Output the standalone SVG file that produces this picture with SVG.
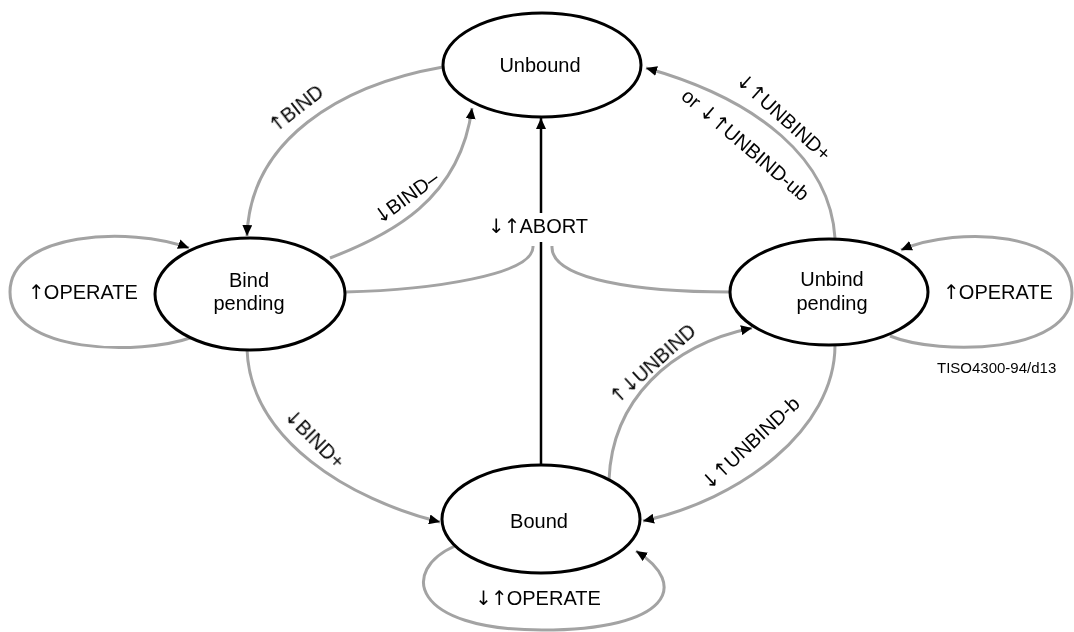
<svg xmlns="http://www.w3.org/2000/svg" width="1074" height="632" viewBox="0 0 1074 632">
<style>
.node{fill:#fff;stroke:#000;stroke-width:3}
.c{fill:none;stroke:#a3a3a3;stroke-width:3}
.t{font-family:"Liberation Sans",Arial,sans-serif;font-size:20px;fill:#000;text-anchor:middle}
.a{font-family:"DejaVu Sans",sans-serif;letter-spacing:-1px}
.small{font-family:"Liberation Sans",Arial,sans-serif;font-size:15px;fill:#000}
.gs{opacity:0.99}
</style>
<defs>
<marker id="ah" markerUnits="userSpaceOnUse" markerWidth="12" markerHeight="10" refX="11" refY="5" orient="auto">
<path d="M0,0 L11,5 L0,10 z" fill="#000"/>
</marker>
</defs>
<rect width="1074" height="632" fill="#fff"/>
<g id="connectors">
<path class="c" d="M443 67 C340 85 250 140 247 236" marker-end="url(#ah)"/>
<path class="c" d="M330 258 C390 235 460 200 472 108" marker-end="url(#ah)"/>
<path class="c" d="M835 238 C830 160 760 100 646 68" marker-end="url(#ah)"/>
<path class="c" d="M247 349 C250 440 350 500 440 522" marker-end="url(#ah)"/>
<path class="c" d="M609 480 C612 400 670 345 752 328" marker-end="url(#ah)"/>
<path class="c" d="M835 345 C835 430 740 500 643 521" marker-end="url(#ah)"/>
<path class="c" d="M345 292 C430 290 535 275 533 246"/>
<path class="c" d="M730 292 C640 292 550 280 552 246"/>
<line x1="541" y1="465" x2="541" y2="242" stroke="#000" stroke-width="2.5"/>
<line x1="541" y1="213" x2="541" y2="118" stroke="#000" stroke-width="2.5" marker-end="url(#ah)"/>
<path class="c" d="M193 337 C140 356 10 354 10 292 C10 232 130 226 189 248" marker-end="url(#ah)"/>
<path class="c" d="M890 336 C940 356 1072 354 1072 293 C1072 232 960 225 901 250" marker-end="url(#ah)"/>
<path class="c" d="M455 546 C400 570 410 630 542 630 C670 630 690 585 636 551" marker-end="url(#ah)"/>
</g>
<g id="labels" class="gs">
<text class="t" transform="translate(300,114) rotate(-38)"><tspan class="a">↑</tspan>BIND</text>
<text class="t" transform="translate(410,203) rotate(-36)"><tspan class="a">↓</tspan>BIND–</text>
<text class="t" transform="translate(779,122) rotate(42)"><tspan class="a">↓↑</tspan>UNBIND+</text>
<text class="t" transform="translate(741,150) rotate(40.5)">or <tspan class="a">↓↑</tspan>UNBIND-ub</text>
<text class="t" x="538" y="233"><tspan class="a">↓↑</tspan>ABORT</text>
<text class="t" transform="translate(309.5,443.5) rotate(45)"><tspan class="a">↓</tspan>BIND+</text>
<text class="t" transform="translate(657,369) rotate(-42)"><tspan class="a">↑↓</tspan>UNBIND</text>
<text class="t" transform="translate(755,448) rotate(-43)"><tspan class="a">↓↑</tspan>UNBIND-b</text>
<text class="t" x="83" y="299"><tspan class="a">↑</tspan>OPERATE</text>
<text class="t" x="998" y="299"><tspan class="a">↑</tspan>OPERATE</text>
<text class="t" x="538" y="605"><tspan class="a">↓↑</tspan>OPERATE</text>
<text class="small" x="937" y="373">TISO4300-94/d13</text>
</g>
<g id="unbound">
<ellipse class="node" cx="542" cy="65" rx="99" ry="52"/>
<text class="t" x="540" y="72">Unbound</text>
</g>
<g id="bind-pending">
<ellipse class="node" cx="250" cy="294" rx="95" ry="56"/>
<text class="t" x="249" y="287">Bind</text>
<text class="t" x="249" y="310">pending</text>
</g>
<g id="unbind-pending">
<ellipse class="node" cx="829" cy="292" rx="99" ry="53"/>
<text class="t" x="832" y="286">Unbind</text>
<text class="t" x="832" y="310">pending</text>
</g>
<g id="bound">
<ellipse class="node" cx="541" cy="519" rx="99" ry="54"/>
<text class="t" x="539" y="528">Bound</text>
</g>
</svg>
